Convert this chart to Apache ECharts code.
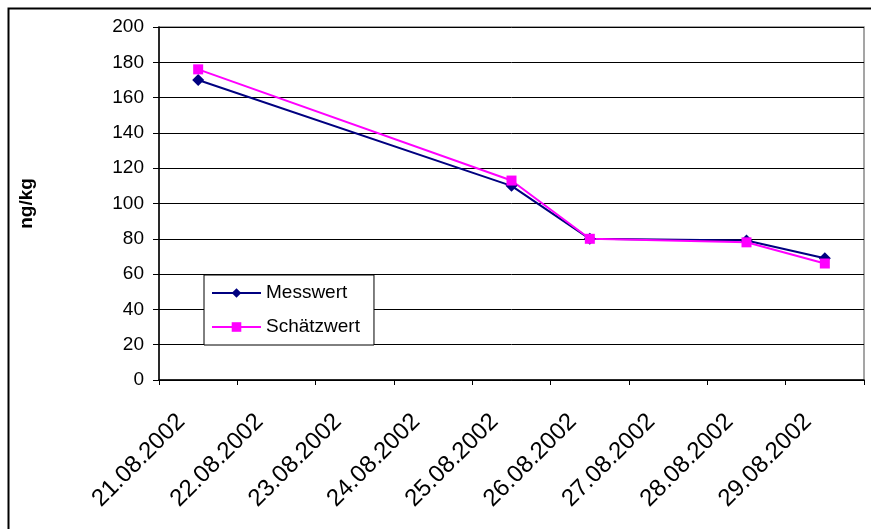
<!DOCTYPE html>
<html>
<head>
<meta charset="utf-8">
<script src="https://cdn.jsdelivr.net/npm/echarts@6/dist/echarts.min.js"></script>
<style>html,body{margin:0;padding:0;background:#fff}#c{width:871px;height:529px}</style>
</head>
<body>
<div id="c"></div>
<script>
const categories = ['21.08.2002','22.08.2002','23.08.2002','24.08.2002','25.08.2002','26.08.2002','27.08.2002','28.08.2002','29.08.2002'];
const messwert = [170, null, null, null, 110, 80, null, 79, 69];
const schaetzwert = [176, null, null, null, 113, 80, null, 78, 66];
const yTicks = [0, 20, 40, 60, 80, 100, 120, 140, 160, 180, 200];
const seriesNames = ['Messwert', 'Schätzwert'];
const yName = 'ng/kg';

const chart = echarts.init(document.getElementById('c'), null, {renderer: 'canvas'});
chart.setOption({
  animation: false,
  backgroundColor: '#fff',
  textStyle: {fontFamily: 'Liberation Sans, Arial, sans-serif'},
  graphic: [{
    type: 'rect', left: 6, top: 6, shape: {x: 0, y: 0, width: 900, height: 600},
    style: {fill: 'none', stroke: '#000', lineWidth: 2}, z: -1
  }],
  grid: {left: 159, top: 27, right: 7, bottom: 149, show: true, borderColor: '#888', borderWidth: 1.5},
  legend: {
    orient: 'vertical', left: 204, top: 275,
    backgroundColor: '#fff', borderColor: '#000', borderWidth: 1,
    padding: [8, 14, 8, 7], itemGap: 14, itemWidth: 49, itemHeight: 12,
    textStyle: {fontSize: 19, color: '#000', lineHeight: 20, fontFamily: 'Liberation Sans, Arial, sans-serif'},
    data: seriesNames
  },
  xAxis: {
    type: 'category', data: categories, boundaryGap: true,
    axisLine: {lineStyle: {color: '#000', width: 1.5}},
    axisTick: {show: true, length: 5, lineStyle: {color: '#000'}},
    axisLabel: {rotate: 45, fontSize: 24, color: '#000', margin: 21, interval: 0, padding: [0, 24, 0, 0]},
    splitLine: {show: false}
  },
  yAxis: {
    type: 'value', min: yTicks[0], max: yTicks[yTicks.length - 1], interval: 20,
    name: yName, nameLocation: 'middle', nameGap: 123, nameRotate: 90,
    nameTextStyle: {fontSize: 19, fontWeight: 'bold', color: '#000'},
    axisLine: {show: true, lineStyle: {color: '#000', width: 1.5}},
    axisTick: {show: true, length: 6, lineStyle: {color: '#000'}},
    axisLabel: {fontSize: 19, color: '#000', margin: 15},
    splitLine: {show: true, lineStyle: {color: '#000', width: 1}}
  },
  series: [{
    name: seriesNames[0], type: 'line', data: messwert, connectNulls: true,
    symbol: 'diamond', symbolSize: 12,
    lineStyle: {color: '#000080', width: 2}, itemStyle: {color: '#000080'}
  }, {
    name: seriesNames[1], type: 'line', data: schaetzwert, connectNulls: true,
    symbol: 'rect', symbolSize: 10,
    lineStyle: {color: '#FF00FF', width: 2}, itemStyle: {color: '#FF00FF'}
  }]
});
</script>
</body>
</html>
